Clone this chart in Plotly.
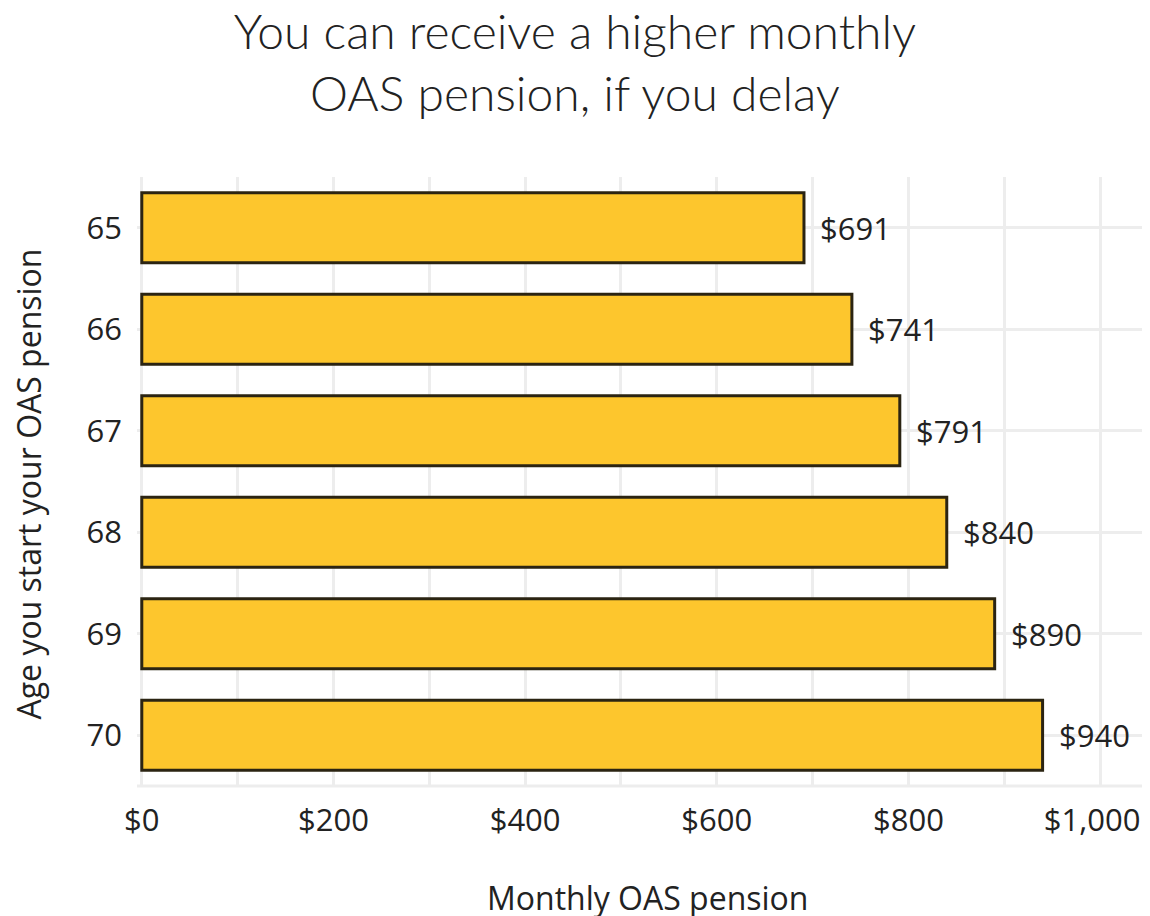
import plotly.graph_objects as go

ages = [65, 66, 67, 68, 69, 70]
pension = [691, 741, 791, 840, 890, 940]
x_tick_vals = [0, 200, 400, 600, 800, 1000]
x_tick_text = ["$0", "$200", "$400", "$600", "$800", "$1,000"]

title_text = "You can receive a higher monthly<br>OAS pension, if you delay"
x_title = "Monthly OAS pension"
y_title = "Age you start your OAS pension"

BAR_FILL = "#FDC62D"
BAR_LINE = "#2B2412"
GRID = "#EDEDED"
TEXT = "#222222"
FONT = "Open Sans"
FS = 31
FS_TITLE = 32

fig = go.Figure()
fig.add_trace(go.Bar(
    x=pension, y=ages, orientation="h",
    marker=dict(color=BAR_FILL, line=dict(color=BAR_LINE, width=3)),
    width=0.69,
    hoverinfo="skip",
))

for a, v in zip(ages, pension):
    fig.add_annotation(x=v, y=a, text=f"${v:,}", showarrow=False,
                       xanchor="left", yanchor="middle", xshift=14,
                       font=dict(family=FONT, size=FS, color=TEXT))

# axis titles as annotations (axis titles are clamped inside the margins)
fig.add_annotation(xref="paper", yref="paper", x=0, y=0.5, xshift=-109, yshift=-3,
                   text=y_title, textangle=-90, showarrow=False,
                   xanchor="center", yanchor="middle",
                   font=dict(family=FONT, size=FS_TITLE, color=TEXT))
fig.add_annotation(xref="paper", yref="paper", x=0.5, y=0, xshift=5, yshift=-111,
                   text=x_title, showarrow=False,
                   xanchor="center", yanchor="middle",
                   font=dict(family=FONT, size=FS_TITLE, color=TEXT))

# keep the last tick label inside the visible page width
tick_text_display = x_tick_text[:-1] + [x_tick_text[-1] + "&nbsp;&nbsp;"]

# page body adds an 8px offset, so the figure is made smaller
fig.update_layout(
    width=1142, height=908,
    paper_bgcolor="white", plot_bgcolor="white",
    margin=dict(l=129, r=2, t=169, b=130, autoexpand=False),
    showlegend=False,
    title=dict(text=title_text, xref="container", x=0.4965, xanchor="center",
               yref="container", y=0.955, yanchor="middle", automargin=False,
               font=dict(family="Lato", weight=300, size=48, color=TEXT)),
    font=dict(family=FONT, size=FS, color=TEXT),
)

fig.update_xaxes(
    range=[-5, 1050],
    tickvals=x_tick_vals, ticktext=tick_text_display,
    showgrid=True, gridcolor=GRID, gridwidth=3,
    minor=dict(dtick=100, tick0=0, showgrid=True, gridcolor=GRID, gridwidth=3),
    zeroline=False,
    showline=False, automargin=False,
    ticks="", ticklabelstandoff=13, ticklabeloverflow="allow",
    tickfont=dict(family=FONT, size=FS, color=TEXT),
)
fig.update_yaxes(
    range=[70.5, 64.5],
    tickvals=ages, ticktext=[str(a) for a in ages],
    showgrid=True, gridcolor=GRID, gridwidth=3,
    zeroline=False, automargin=False,
    ticks="", ticklabelstandoff=14,
    tickfont=dict(family=FONT, size=FS, color=TEXT),
)

# bottom border line of the panel
fig.add_shape(type="line", xref="paper", yref="paper", x0=0, x1=1, y0=0, y1=0,
              line=dict(color=GRID, width=3), layer="below")

fig.write_html("out.html")
